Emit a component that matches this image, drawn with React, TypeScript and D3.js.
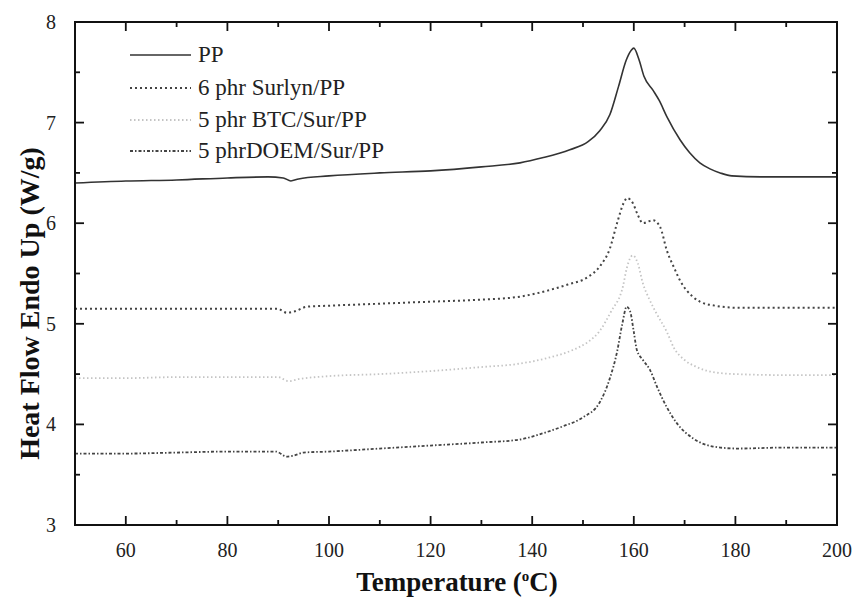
import React from 'react';
import * as d3 from 'd3';

// temperature (°C) / heat flow (W/g) pairs
const ppTemp = [50, 60, 70, 80, 88, 91, 92.5, 94, 100, 110, 120, 130, 137.6, 142, 147.4, 151, 153.3, 155.3, 157, 158.5, 159.5, 160, 161, 162, 163.8, 165, 166.5, 169.1, 171, 173, 175, 177, 179.3, 185, 190, 200];
const ppFlow = [6.40, 6.42, 6.43, 6.45, 6.46, 6.45, 6.42, 6.44, 6.47, 6.50, 6.52, 6.56, 6.60, 6.65, 6.73, 6.81, 6.92, 7.08, 7.36, 7.62, 7.72, 7.74, 7.63, 7.46, 7.32, 7.22, 7.06, 6.83, 6.70, 6.60, 6.54, 6.50, 6.47, 6.46, 6.46, 6.46];

const surTemp = [50, 60, 70, 80, 89.8, 91.7, 93, 95.7, 100, 110, 120, 130, 137.6, 143, 147, 150.8, 153.3, 155.3, 156.7, 158, 158.7, 159.8, 160.8, 161.8, 163, 163.8, 165.2, 166.5, 168, 169.1, 171.6, 173, 176, 180.3, 190, 200];
const surFlow = [5.15, 5.15, 5.15, 5.15, 5.15, 5.11, 5.12, 5.17, 5.18, 5.20, 5.22, 5.24, 5.27, 5.33, 5.39, 5.46, 5.57, 5.75, 6.00, 6.20, 6.25, 6.20, 6.08, 6.00, 6.02, 6.03, 5.96, 5.73, 5.55, 5.43, 5.27, 5.22, 5.18, 5.16, 5.16, 5.16];

const btcTemp = [50, 60, 70, 80, 90, 92, 94, 100, 110, 120, 130, 137, 143, 148, 151, 153.3, 155.5, 157.9, 158.6, 159.8, 160.8, 161.8, 163, 164.5, 166.5, 167.9, 170, 172.4, 175.6, 180, 190, 200];
const btcFlow = [4.46, 4.46, 4.47, 4.47, 4.47, 4.43, 4.45, 4.48, 4.50, 4.53, 4.57, 4.60, 4.66, 4.74, 4.82, 4.93, 5.12, 5.38, 5.55, 5.68, 5.60, 5.40, 5.25, 5.10, 4.92, 4.76, 4.64, 4.57, 4.52, 4.50, 4.49, 4.49];

const doemTemp = [50, 60, 70, 80, 89.5, 91.7, 93, 95, 100, 110, 120, 130, 137.6, 142, 146, 150, 153.3, 155.3, 156.7, 157.7, 158.6, 159.3, 160, 160.6, 161.8, 163.2, 164.6, 166.5, 168.5, 171.7, 175.6, 180.3, 190, 200];
const doemFlow = [3.71, 3.71, 3.72, 3.73, 3.73, 3.68, 3.69, 3.72, 3.73, 3.76, 3.79, 3.82, 3.85, 3.91, 3.98, 4.07, 4.22, 4.46, 4.72, 4.99, 5.17, 5.12, 4.92, 4.74, 4.64, 4.54, 4.37, 4.17, 4.01, 3.86, 3.78, 3.76, 3.77, 3.77];

const seriesNames = ['PP', '6 phr Surlyn/PP', '5 phr BTC/Sur/PP', '5 phrDOEM/Sur/PP'];

const xMajor = [60, 80, 100, 120, 140, 160, 180, 200];
const xMinor = [50, 70, 90, 110, 130, 150, 170, 190];
const yMajor = [3, 4, 5, 6, 7, 8];
const yMinor = [3.5, 4.5, 5.5, 6.5, 7.5];

const W = 855, H = 607;
const left = 75, right = 837, top = 22, bottom = 525;
const font = '"Liberation Serif", "Times New Roman", serif';

const styles = [
  { stroke: '#333', width: 1.6, dash: null },
  { stroke: '#444', width: 2, dash: '2,3' },
  { stroke: '#c4c4c4', width: 1.8, dash: '1.5,2.5' },
  { stroke: '#444', width: 1.8, dash: '3,2,1.5,2' },
];

export default function App() {
  const x = d3.scaleLinear().domain([50, 200]).range([left, right]);
  const y = d3.scaleLinear().domain([3, 8]).range([bottom, top]);

  const line = d3.line<[number, number]>()
    .x(d => x(d[0]))
    .y(d => y(d[1]))
    .curve(d3.curveMonotoneX);

  const series = [
    d3.zip(ppTemp, ppFlow),
    d3.zip(surTemp, surFlow),
    d3.zip(btcTemp, btcFlow),
    d3.zip(doemTemp, doemFlow),
  ] as [number, number][][];

  const legendY = [55, 88, 120, 151];

  return (
    <svg width={W} height={H} style={{ position: 'absolute', left: 0, top: 0, background: '#fff' }}
      fontFamily={font}>
      {series.map((s, i) => (
        <path key={i} d={line(s) || ''} fill="none" stroke={styles[i].stroke}
          strokeWidth={styles[i].width} strokeDasharray={styles[i].dash || undefined} />
      ))}

      {/* frame */}
      <rect x={left} y={top} width={right - left} height={bottom - top} fill="none" stroke="#111" strokeWidth={2} />

      {/* x ticks, inward on bottom and top */}
      {xMajor.map(v => (
        <g key={'xm' + v}>
          <line x1={x(v)} x2={x(v)} y1={bottom} y2={bottom - 9} stroke="#111" strokeWidth={1.8} />
          <line x1={x(v)} x2={x(v)} y1={top} y2={top + 9} stroke="#111" strokeWidth={1.8} />
          <text x={x(v)} y={557} textAnchor="middle" fontSize={20} fill="#222">{v}</text>
        </g>
      ))}
      {xMinor.map(v => (
        <g key={'xn' + v}>
          <line x1={x(v)} x2={x(v)} y1={bottom} y2={bottom - 5} stroke="#111" strokeWidth={1.8} />
          <line x1={x(v)} x2={x(v)} y1={top} y2={top + 5} stroke="#111" strokeWidth={1.8} />
        </g>
      ))}

      {/* y ticks, inward on left and right */}
      {yMajor.map(v => (
        <g key={'ym' + v}>
          <line x1={left} x2={left + 9} y1={y(v)} y2={y(v)} stroke="#111" strokeWidth={1.8} />
          <line x1={right} x2={right - 9} y1={y(v)} y2={y(v)} stroke="#111" strokeWidth={1.8} />
          <text x={56} y={y(v) + 7} textAnchor="end" fontSize={20} fill="#222">{v}</text>
        </g>
      ))}
      {yMinor.map(v => (
        <g key={'yn' + v}>
          <line x1={left} x2={left + 5} y1={y(v)} y2={y(v)} stroke="#111" strokeWidth={1.8} />
          <line x1={right} x2={right - 5} y1={y(v)} y2={y(v)} stroke="#111" strokeWidth={1.8} />
        </g>
      ))}

      {/* axis titles */}
      <text x={457} y={591} textAnchor="middle" fontSize={27} fontWeight="bold" fill="#111">
        Temperature (<tspan dy={-10} fontSize={15}>o</tspan><tspan dy={10}>C)</tspan>
      </text>
      <text transform={`translate(39,${(top + bottom) / 2 + 30}) rotate(-90)`} textAnchor="middle"
        fontSize={28} fontWeight="bold" fill="#111">Heat Flow Endo Up (W/g)</text>

      {/* legend */}
      {seriesNames.map((n, i) => (
        <g key={n}>
          <line x1={130} x2={191} y1={legendY[i]} y2={legendY[i]} stroke={styles[i].stroke}
            strokeWidth={styles[i].width} strokeDasharray={styles[i].dash || undefined} />
          <text x={198} y={legendY[i] + 7} fontSize={23} fill="#222">{n}</text>
        </g>
      ))}
    </svg>
  );
}
